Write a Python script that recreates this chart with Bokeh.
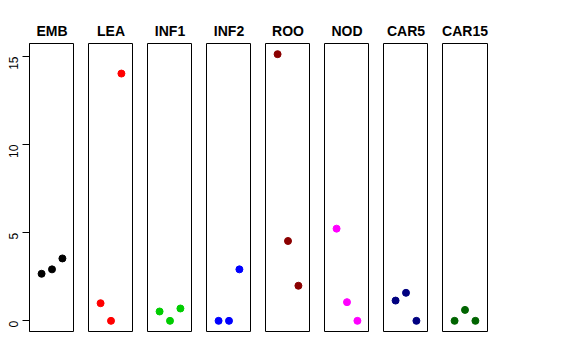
import math
from bokeh.plotting import figure
from bokeh.layouts import row
from bokeh.models import Range1d, FixedTicker
from bokeh.embed import file_html
from bokeh.resources import INLINE

groups = ["EMB", "LEA", "INF1", "INF2", "ROO", "NOD", "CAR5", "CAR15"]
colors = ["black", "red", "#00CD00", "blue", "#8B0000", "magenta", "#000080", "#006400"]
x_pos = [1, 2, 3]
emb = [2.67, 2.92, 3.54]
lea = [1.00, 0.00, 14.03]
inf1 = [0.53, 0.00, 0.70]
inf2 = [0.00, 0.00, 2.92]
roo = [15.13, 4.53, 1.99]
nod = [5.23, 1.06, 0.00]
car5 = [1.15, 1.59, 0.00]
car15 = [0.00, 0.62, 0.00]
series = [emb, lea, inf1, inf2, roo, nod, car5, car15]
y_ticks = [0, 5, 10, 15]

ymin, ymax = 0.0, max(max(s) for s in series)
pad = 0.04 * (ymax - ymin)
FONT = "Liberation Sans"

figs = []
n = len(groups)
for i, (name, col, vals) in enumerate(zip(groups, colors, series)):
    first = i == 0
    last = i == n - 1
    left = 29 if first else 14
    right = 20 if last else 0
    p = figure(
        width=left + 45 + right,
        height=43 + 288 + 20,
        title=name,
        x_range=Range1d(-0.16, 4.16),
        y_range=Range1d(ymin - pad, ymax + pad),
        x_axis_location=None,
        y_axis_location="left" if first else None,
        toolbar_location=None,
        output_backend="svg",
        min_border_left=left,
        min_border_right=right,
        min_border_top=43,
        min_border_bottom=20,
    )
    p.title.align = "center"
    p.title.text_font = FONT
    p.title.text_font_size = "14px"
    p.title.text_font_style = "bold"
    p.title.text_color = "black"
    p.grid.visible = False
    p.outline_line_color = "black"
    p.outline_line_width = 1
    p.background_fill_color = "white"
    p.border_fill_color = "white"
    if first:
        ax = p.yaxis[0]
        ax.ticker = FixedTicker(ticks=y_ticks)
        ax.minor_tick_line_color = None
        ax.major_tick_out = 7
        ax.major_tick_in = 0
        ax.major_label_orientation = math.pi / 2
        ax.major_label_standoff = 9
        ax.major_label_text_font = FONT
        ax.major_label_text_font_size = "12px"
        ax.major_label_text_color = "black"
        ax.axis_line_color = "black"
        ax.major_tick_line_color = "black"
    p.scatter(x_pos, vals, size=7, color=col)
    figs.append(p)

layout = row(*figs, spacing=0)
open("out.html", "w").write(file_html(layout, INLINE))
